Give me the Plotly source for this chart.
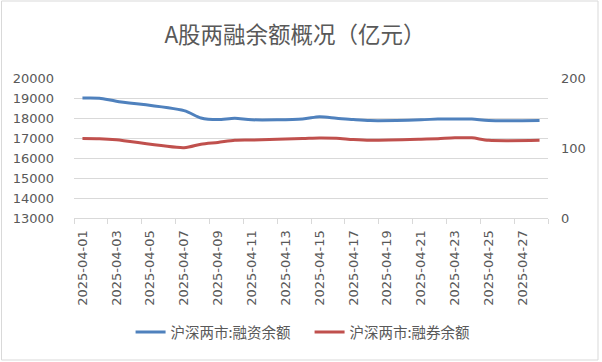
import pandas as pd
import plotly.graph_objects as go

# ---- data ----
dates = ["2025-04-01", "2025-04-02", "2025-04-03", "2025-04-07", "2025-04-08",
         "2025-04-09", "2025-04-10", "2025-04-11", "2025-04-14", "2025-04-15",
         "2025-04-16", "2025-04-17", "2025-04-18", "2025-04-21", "2025-04-22",
         "2025-04-23", "2025-04-24", "2025-04-25", "2025-04-28"]
financing = [19000, 18990, 18840, 18370, 18000, 17920, 17990, 17910, 17950, 18060,
             17990, 17920, 17870, 17910, 17950, 17950, 17950, 17870, 17870]
short_selling = [113.5, 113.2, 111.8, 100.5, 105.5, 108.0, 111.0, 111.4, 113.5, 114.3,
                 113.8, 112.0, 111.0, 112.5, 113.3, 114.5, 114.5, 111.0, 111.0]
tick_dates = ["2025-04-01", "2025-04-03", "2025-04-05", "2025-04-07", "2025-04-09",
              "2025-04-11", "2025-04-13", "2025-04-15", "2025-04-17", "2025-04-19",
              "2025-04-21", "2025-04-23", "2025-04-25", "2025-04-27"]
name_fin = "沪深两市:融资余额"
name_short = "沪深两市:融券余额"
title_text = "A股两融余额概况（亿元）"

# center each point in its day slot
x_pts = pd.to_datetime(dates) + pd.Timedelta(hours=12)
x_ticks = pd.to_datetime(tick_dates) + pd.Timedelta(hours=12)

W, H = 602, 362
L, R, T, B = 74, 54, 78, 144

grey = "#595959"
grid = "#D9D9D9"
cjk = "Noto Sans CJK SC"
num_font = "DejaVu Sans, Noto Sans CJK SC"

fig = go.Figure()
fig.add_trace(go.Scatter(
    x=x_pts, y=financing, name=name_fin, mode="lines",
    line=dict(color="#4F81BD", width=3, shape="spline", smoothing=0.8),
    yaxis="y"))
fig.add_trace(go.Scatter(
    x=x_pts, y=short_selling, name=name_short, mode="lines",
    line=dict(color="#C0504D", width=3, shape="spline", smoothing=0.8),
    yaxis="y2"))

pw = W - L - R
ph = H - T - B
def px_x(p):
    return (p - L) / pw
def px_y(p):
    return (H - B - p) / ph

fig.update_layout(
    width=W, height=H,
    margin=dict(l=L, r=R, t=T, b=B, pad=0),
    paper_bgcolor="white", plot_bgcolor="white",
    title=dict(text=title_text, x=295 / W, xanchor="center", y=1 - 35 / H, yanchor="middle",
               font=dict(family=cjk, size=22.5, color=grey)),
    showlegend=True,
    legend=dict(orientation="h", x=0.497, xanchor="center", y=px_y(332), yanchor="middle",
                font=dict(family=cjk, size=14.5, color=grey), bgcolor="rgba(0,0,0,0)",
                entrywidth=134, entrywidthmode="pixels"),
    xaxis=dict(
        type="date", range=["2025-04-01", "2025-04-29"], automargin=False,
        tickmode="array", tickvals=x_ticks, ticktext=tick_dates, tickangle=-90,
        ticks="", showgrid=False, zeroline=False,
        showline=True, linecolor=grid, linewidth=1,
        tickfont=dict(family=num_font, size=13, color=grey),
        ticklabelstandoff=6,
        minor=dict(ticks="outside", ticklen=5, tickcolor=grid, tickwidth=1,
                   tick0="2025-04-01", dtick=2 * 86400000, showgrid=False),
    ),
    yaxis=dict(
        range=[13000, 20000], dtick=1000, tick0=13000, tickformat="d", automargin=False,
        showgrid=True, gridcolor=grid, gridwidth=1, zeroline=False, showline=False,
        tickfont=dict(family=num_font, size=13, color=grey), ticks="",
        ticklabelstandoff=19,
    ),
    yaxis2=dict(
        range=[0, 200], dtick=100, tick0=0, overlaying="y", side="right", automargin=False,
        showgrid=False, zeroline=False, showline=False, ticks="",
        tickfont=dict(family=num_font, size=13, color=grey),
        ticklabelstandoff=12,
    ),
    shapes=[dict(type="rect", xref="paper", yref="paper",
                 x0=px_x(1.5), x1=px_x(598), y0=px_y(360), y1=px_y(1),
                 line=dict(color=grid, width=1), fillcolor="rgba(0,0,0,0)", layer="below")],
)

fig.write_html("out.html", config={"displayModeBar": False},
               post_script="document.body.style.margin='0';")
